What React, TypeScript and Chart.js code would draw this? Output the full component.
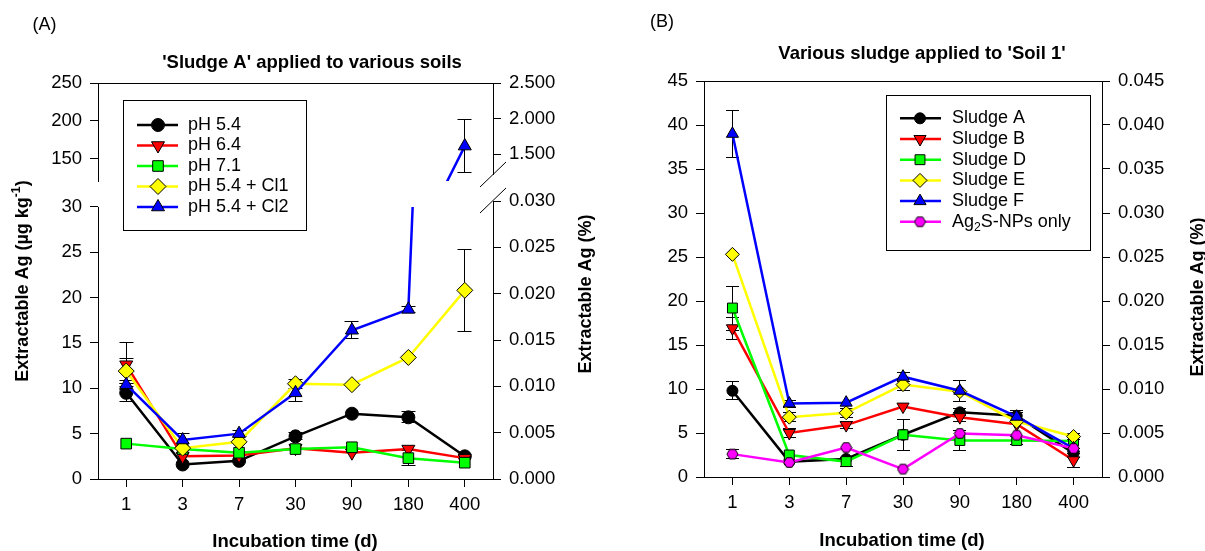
import React, { useEffect, useRef } from 'react';
import { Chart, registerables } from 'chart.js';
import { drawPoint } from 'chart.js/helpers';

Chart.register(...registerables);

const FONT = "'Liberation Sans', Arial, Helvetica, sans-serif";

// ---------- categories ----------
const DAYS = ['1', '3', '7', '30', '90', '180', '400'];

// ---------- Panel A: 'Sludge A' applied to various soils (µg/kg) ----------
const A_PH54 = [9.5, 1.6, 2.0, 4.7, 7.2, 6.8, 2.5];
const A_PH64 = [12.6, 2.5, 2.6, 3.4, 2.9, 3.3, 2.3];
const A_PH71 = [3.9, 3.3, 2.9, 3.3, 3.5, 2.3, 1.8];
const A_CL1 = [11.9, 3.4, 4.1, 10.5, 10.4, 13.4, 20.8];
const A_CL2 = [10.4, 4.3, 5.0, 9.5, 16.4, 18.7, 167];

const A_PH54_ERR = [1.0, 0, 0, 0.4, 0, 0.6, 0];
const A_PH64_ERR = [2.4, 0, 0, 0, 0, 0, 0];
const A_PH71_ERR = [0, 0, 0, 0, 0, 0.8, 0];
const A_CL1_ERR = [1.4, 0, 0, 0.5, 0, 0, 4.5];
const A_CL2_ERR = [0.5, 0.7, 0.3, 1.0, 0.95, 0.3, 35];

// ---------- Panel B: Various sludge applied to 'Soil 1' (µg/kg) ----------
const B_SLUDGE_A = [9.8, 1.75, 2.05, 4.8, 7.35, 6.95, 2.7];
const B_SLUDGE_B = [16.9, 5.0, 5.9, 8.0, 6.8, 6.0, 1.9];
const B_SLUDGE_D = [19.2, 2.5, 1.75, 4.8, 4.15, 4.15, 4.1];
const B_SLUDGE_E = [25.3, 6.8, 7.3, 10.5, 9.7, 6.3, 4.6];
const B_SLUDGE_F = [39.0, 8.35, 8.45, 11.4, 9.8, 6.85, 3.25];
const B_NP_ONLY = [2.6, 1.65, 3.35, 0.9, 4.95, 4.75, 3.25];

const B_SLUDGE_A_ERR = [1.0, 0, 0, 0, 0.4, 0.6, 0.5];
const B_SLUDGE_B_ERR = [1.25, 0.5, 0.4, 0, 0.5, 0, 0.8];
const B_SLUDGE_D_ERR = [2.5, 0, 0.5, 1.75, 1.1, 0.4, 0];
const B_SLUDGE_E_ERR = [0, 0.5, 0.5, 0.7, 0, 0, 0.3];
const B_SLUDGE_F_ERR = [2.7, 0.4, 0, 0.5, 1.2, 0.5, 0];
const B_NP_ONLY_ERR = [0.5, 0, 0, 0, 0, 0, 0];

// ---------- tick labels ----------
const A_LOWER_TICKS = [0, 5, 10, 15, 20, 25, 30];
const A_UPPER_TICKS = [150, 200, 250];
const A_LOWER_PCT_TICKS = [0, 0.005, 0.01, 0.015, 0.02, 0.025, 0.03];
const A_UPPER_PCT_TICKS = [1.5, 2.0, 2.5];
const B_TICKS = [0, 5, 10, 15, 20, 25, 30, 35, 40, 45];
const B_PCT_TICKS = [0, 0.005, 0.01, 0.015, 0.02, 0.025, 0.03, 0.035, 0.04, 0.045];

// ---------- helpers ----------
function drawRich(ctx: any, text: string, x: number, y: number, size: number, bold: boolean, align: string) {
  const parts: any[] = [];
  const re = /(\^\{([^}]*)\}|_\{([^}]*)\})/g;
  let last = 0;
  let m: any;
  while ((m = re.exec(text))) {
    if (m.index > last) parts.push({ t: text.slice(last, m.index), k: 0 });
    parts.push(m[2] !== undefined ? { t: m[2], k: 1 } : { t: m[3], k: -1 });
    last = re.lastIndex;
  }
  if (last < text.length) parts.push({ t: text.slice(last), k: 0 });
  const w = bold ? 'bold ' : '';
  const fontFor = (k: number) => `${w}${k === 0 ? size : size * 0.68}px ${FONT}`;
  let total = 0;
  parts.forEach((p) => {
    ctx.font = fontFor(p.k);
    p.w = ctx.measureText(p.t).width;
    total += p.w;
  });
  let cx = align === 'center' ? x - total / 2 : align === 'right' ? x - total : x;
  ctx.textAlign = 'left';
  ctx.textBaseline = 'middle';
  ctx.fillStyle = '#000';
  parts.forEach((p) => {
    ctx.font = fontFor(p.k);
    const dy = p.k === 1 ? -size * 0.33 : p.k === -1 ? size * 0.3 : 0;
    ctx.fillText(p.t, cx, y + dy);
    cx += p.w;
  });
}

function align(v: number) {
  return Math.round(v - 0.5) + 0.5;
}

function makeHex(r: number, fill: string) {
  const c = document.createElement('canvas');
  const s = Math.ceil(r * 2 + 2);
  c.width = s;
  c.height = s;
  const ctx = c.getContext('2d')!;
  ctx.beginPath();
  for (let i = 0; i < 6; i++) {
    const a = (i * Math.PI) / 3;
    const px = s / 2 + r * Math.cos(a);
    const py = s / 2 + r * Math.sin(a);
    if (i === 0) ctx.moveTo(px, py);
    else ctx.lineTo(px, py);
  }
  ctx.closePath();
  ctx.fillStyle = fill;
  ctx.fill();
  ctx.lineWidth = 1;
  ctx.strokeStyle = '#000';
  ctx.stroke();
  return c;
}

// ---------- plugins ----------
const errorBars = {
  id: 'errorBars',
  beforeDatasetsDraw(chart: any, _args: any, o: any) {
    const { ctx, chartArea: ca } = chart;
    const clipTop = (o && o.clipTop) || 0;
    const cap = (o && o.cap) || 6.5;
    ctx.save();
    ctx.beginPath();
    ctx.rect(ca.left - 10, ca.top + clipTop, ca.right - ca.left + 20, ca.bottom - ca.top - clipTop + 10);
    ctx.clip();
    ctx.strokeStyle = '#000';
    ctx.lineWidth = 1;
    chart.data.datasets.forEach((ds: any, i: number) => {
      const errs = ds.errors;
      if (!errs) return;
      const meta = chart.getDatasetMeta(i);
      const ys = chart.scales[meta.yAxisID];
      meta.data.forEach((pt: any, j: number) => {
        const e = errs[j];
        if (!e) return;
        const v = ds.data[j];
        const x = align(pt.x);
        const y1 = align(ys.getPixelForValue(v - e));
        const y2 = align(ys.getPixelForValue(v + e));
        ctx.beginPath();
        ctx.moveTo(x, y1);
        ctx.lineTo(x, y2);
        ctx.moveTo(x - cap, y1);
        ctx.lineTo(x + cap, y1);
        ctx.moveTo(x - cap, y2);
        ctx.lineTo(x + cap, y2);
        ctx.stroke();
      });
    });
    ctx.restore();
  },
};

const boxLegend = {
  id: 'boxLegend',
  afterDraw(chart: any, _args: any, o: any) {
    if (!o || !o.show) return;
    const ctx = chart.ctx;
    ctx.save();
    ctx.fillStyle = '#fff';
    ctx.fillRect(o.x, o.y, o.w, o.h);
    ctx.strokeStyle = '#000';
    ctx.lineWidth = 1;
    ctx.strokeRect(o.x + 0.5, o.y + 0.5, o.w, o.h);
    chart.data.datasets.forEach((ds: any, i: number) => {
      const yy = o.rowY + i * o.rowH;
      ctx.strokeStyle = ds.borderColor;
      ctx.lineWidth = ds.borderWidth;
      ctx.beginPath();
      ctx.moveTo(o.lineX1, yy);
      ctx.lineTo(o.lineX2, yy);
      ctx.stroke();
      ctx.fillStyle = ds.pointBackgroundColor;
      ctx.strokeStyle = '#000';
      ctx.lineWidth = 1;
      drawPoint(ctx, { pointStyle: ds.pointStyle, rotation: ds.pointRotation, radius: ds.pointRadius, borderWidth: 1 } as any, o.markX, yy);
      drawRich(ctx, ds.label, o.textX, yy, o.size, false, 'left');
    });
    ctx.restore();
  },
};

const texts = {
  id: 'texts',
  afterDraw(chart: any, _args: any, o: any) {
    if (!o || !o.items) return;
    const ctx = chart.ctx;
    o.items.forEach((it: any) => {
      ctx.save();
      ctx.translate(it.x, it.y);
      if (it.rot) ctx.rotate(it.rot);
      drawRich(ctx, it.text, 0, 0, it.size, !!it.bold, it.align || 'center');
      ctx.restore();
    });
  },
};

const spines = {
  id: 'spines',
  beforeDatasetsDraw(chart: any, _args: any, o: any) {
    if (!o) return;
    const { ctx, chartArea: ca } = chart;
    ctx.save();
    ctx.strokeStyle = '#000';
    ctx.lineWidth = 1;
    if (o.top) {
      const y = align(ca.top);
      ctx.beginPath();
      ctx.moveTo(ca.left, y);
      ctx.lineTo(ca.right, y);
      ctx.stroke();
    }
    if (o.leftFromValue !== undefined) {
      const y = chart.scales.y.getPixelForValue(o.leftFromValue);
      const x = align(ca.left);
      ctx.beginPath();
      ctx.moveTo(x, y);
      ctx.lineTo(x, ca.bottom);
      ctx.stroke();
    }
    if (o.rightTo !== undefined) {
      const x = align(ca.right);
      ctx.beginPath();
      ctx.moveTo(x, ca.top);
      ctx.lineTo(x, o.rightTo);
      ctx.stroke();
    }
    ctx.restore();
  },
  afterDraw(chart: any, _args: any, o: any) {
    if (!o || !o.breaks) return;
    const ctx = chart.ctx;
    ctx.save();
    ctx.strokeStyle = '#000';
    ctx.lineWidth = 1;
    o.breaks.forEach((b: number[]) => {
      ctx.beginPath();
      ctx.moveTo(b[0], b[1]);
      ctx.lineTo(b[2], b[3]);
      ctx.stroke();
    });
    ctx.restore();
  },
};

// ---------- config builders ----------
const TICK_FONT = { family: FONT, size: 18.5 };

function yAxis(pos: string, min: number, max: number, ticks: number[], width: number, fmt: (v: number) => string, border = true) {
  return {
    type: 'linear',
    position: pos,
    min,
    max,
    afterBuildTicks: (s: any) => {
      s.ticks = ticks.map((v) => ({ value: v }));
    },
    afterFit: (s: any) => {
      s.width = width;
    },
    grid: { display: true, drawOnChartArea: false, drawTicks: true, tickLength: 8, color: '#000', lineWidth: 1 },
    border: { display: border, color: '#000', width: 1 },
    ticks: { color: '#000', font: TICK_FONT, padding: 8, callback: (v: any) => fmt(Number(v)) },
  };
}

function xAxis(show: boolean, height: number) {
  return {
    type: 'category',
    labels: DAYS,
    offset: true,
    display: show,
    afterFit: (s: any) => {
      s.height = height;
    },
    grid: { display: true, offset: false, drawOnChartArea: false, drawTicks: true, tickLength: 8, color: '#000', lineWidth: 1 },
    border: { display: true, color: '#000', width: 1 },
    ticks: { color: '#000', font: TICK_FONT, padding: 7, maxRotation: 0, autoSkip: false },
  };
}

function makeDatasets(series: any[], clip: any) {
  const n = series.length;
  return series.map((s, i) => ({
    label: s.label,
    data: s.data,
    errors: s.err,
    yAxisID: 'y',
    order: n - i,
    borderColor: s.color,
    backgroundColor: s.color,
    borderWidth: 2.5,
    tension: 0,
    pointStyle: s.style,
    pointRadius: s.r,
    pointHoverRadius: s.r,
    pointRotation: s.rot || 0,
    pointBackgroundColor: s.color,
    pointBorderColor: '#000',
    pointBorderWidth: 1,
    clip,
  }));
}

function seriesA() {
  return [
    { label: 'pH 5.4', data: A_PH54, err: A_PH54_ERR, color: '#000000', style: 'circle', r: 6.5 },
    { label: 'pH 6.4', data: A_PH64, err: A_PH64_ERR, color: '#ff0000', style: 'triangle', r: 7.5, rot: 180 },
    { label: 'pH 7.1', data: A_PH71, err: A_PH71_ERR, color: '#00ff00', style: 'rect', r: 7.5 },
    { label: 'pH 5.4 + Cl1', data: A_CL1, err: A_CL1_ERR, color: '#ffff00', style: 'rectRot', r: 8 },
    { label: 'pH 5.4 + Cl2', data: A_CL2, err: A_CL2_ERR, color: '#0000ff', style: 'triangle', r: 7.5 },
  ];
}

function seriesB(hex: any) {
  return [
    { label: 'Sludge A', data: B_SLUDGE_A, err: B_SLUDGE_A_ERR, color: '#000000', style: 'circle', r: 5.5 },
    { label: 'Sludge B', data: B_SLUDGE_B, err: B_SLUDGE_B_ERR, color: '#ff0000', style: 'triangle', r: 7, rot: 180 },
    { label: 'Sludge D', data: B_SLUDGE_D, err: B_SLUDGE_D_ERR, color: '#00ff00', style: 'rect', r: 7 },
    { label: 'Sludge E', data: B_SLUDGE_E, err: B_SLUDGE_E_ERR, color: '#ffff00', style: 'rectRot', r: 7 },
    { label: 'Sludge F', data: B_SLUDGE_F, err: B_SLUDGE_F_ERR, color: '#0000ff', style: 'triangle', r: 7 },
    { label: 'Ag_{2}S-NPs only', data: B_NP_ONLY, err: B_NP_ONLY_ERR, color: '#ff00ff', style: hex, r: 6 },
  ];
}

const fmt0 = (v: number) => String(Math.round(v));
const fmt3 = (v: number) => v.toFixed(3);

function baseOptions(padding: any, scales: any, plugins: any) {
  return {
    responsive: false,
    maintainAspectRatio: false,
    animation: false,
    devicePixelRatio: 1,
    events: [],
    layout: { padding },
    scales,
    plugins: { legend: { display: false }, tooltip: { enabled: false }, title: { display: false }, ...plugins },
  };
}

function cfgAUpper() {
  return {
    type: 'line',
    data: { labels: DAYS, datasets: makeDatasets(seriesA(), { left: 10, right: 10, top: 10, bottom: 0 }) },
    options: baseOptions(
      { left: 0, right: 0, top: 83, bottom: 370 },
      {
        x: xAxis(false, 0),
        y: yAxis('left', 121.05, 250, A_UPPER_TICKS, 98, fmt0),
        y2: yAxis('right', 1.12, 2.5, A_UPPER_PCT_TICKS, 107, fmt3, false),
      },
      {
        errorBars: { cap: 7 },
        spines: { top: true, rightTo: 175 },
      }
    ),
    plugins: [errorBars, spines],
  };
}

function cfgALower() {
  return {
    type: 'line',
    data: { labels: DAYS, datasets: makeDatasets(seriesA(), { left: 10, right: 10, top: -6, bottom: 10 }) },
    options: baseOptions(
      { left: 0, right: 0, top: 201, bottom: 0 },
      {
        x: xAxis(true, 72),
        y: yAxis('left', 0, 30.65, A_LOWER_TICKS, 98, fmt0, false),
        y2: yAxis('right', 0, 0.03, A_LOWER_PCT_TICKS, 107, fmt3),
      },
      {
        errorBars: { cap: 7, clipTop: 6 },
        spines: {
          leftFromValue: 30,
          breaks: [
            [480, 187, 506, 162],
            [480, 213, 506, 188],
          ],
        },
        boxLegend: {
          show: true, x: 123, y: 100, w: 183, h: 130,
          rowY: 125, rowH: 20.5, lineX1: 137, lineX2: 178, markX: 158, textX: 188, size: 18,
        },
        texts: {
          items: [
            { text: '(A)', x: 44.5, y: 25, size: 18 },
            { text: "'Sludge A' applied to various soils", x: 312, y: 63, size: 18.5, bold: true },
            { text: 'Extractable Ag (µg kg^{-1})', x: 23, y: 281, size: 18, bold: true, rot: -Math.PI / 2 },
            { text: 'Extractable Ag (%)', x: 586, y: 294, size: 18, bold: true, rot: -Math.PI / 2 },
            { text: 'Incubation time (d)', x: 295, y: 542, size: 18.5, bold: true },
          ],
        },
      }
    ),
    plugins: [errorBars, spines, boxLegend, texts],
  };
}

function cfgB(hex: any) {
  return {
    type: 'line',
    data: { labels: DAYS, datasets: makeDatasets(seriesB(hex), { left: 10, right: 10, top: 10, bottom: 10 }) },
    options: baseOptions(
      { left: 0, right: 0, top: 81, bottom: 0 },
      {
        x: xAxis(true, 74),
        y: yAxis('left', 0, 45, B_TICKS, 104, fmt0),
        y2: yAxis('right', 0, 0.045, B_PCT_TICKS, 103, fmt3),
      },
      {
        errorBars: { cap: 6.5 },
        spines: { top: true },
        boxLegend: {
          show: true, x: 286, y: 95, w: 204, h: 155,
          rowY: 118.3, rowH: 20.7, lineX1: 300, lineX2: 341, markX: 320, textX: 352, size: 18,
        },
        texts: {
          items: [
            { text: '(B)', x: 62, y: 22, size: 18 },
            { text: "Various sludge applied to 'Soil 1'", x: 322, y: 54, size: 18.5, bold: true },
            { text: 'Extractable Ag (%)', x: 598, y: 297, size: 18, bold: true, rot: -Math.PI / 2 },
            { text: 'Incubation time (d)', x: 302, y: 541, size: 18.5, bold: true },
          ],
        },
      }
    ),
    plugins: [errorBars, spines, boxLegend, texts],
  };
}

export default function App() {
  const aUp = useRef<HTMLCanvasElement>(null);
  const aLo = useRef<HTMLCanvasElement>(null);
  const bRef = useRef<HTMLCanvasElement>(null);

  useEffect(() => {
    const hex = makeHex(5.5, '#ff00ff');
    const charts = [
      new Chart(aUp.current as any, cfgAUpper() as any),
      new Chart(aLo.current as any, cfgALower() as any),
      new Chart(bRef.current as any, cfgB(hex) as any),
    ];
    return () => charts.forEach((c) => c.destroy());
  }, []);

  const cs = (left: number, w: number): any => ({ position: 'absolute', left, top: 0, width: w, height: 551, display: 'block' });

  return (
    <div style={{ position: 'absolute', left: 0, top: 0, width: 1205, height: 551, background: '#fff', overflow: 'hidden' }}>
      <canvas ref={aUp} width={600} height={551} style={cs(0, 600)} />
      <canvas ref={aLo} width={600} height={551} style={cs(0, 600)} />
      <canvas ref={bRef} width={605} height={551} style={cs(600, 605)} />
    </div>
  );
}
